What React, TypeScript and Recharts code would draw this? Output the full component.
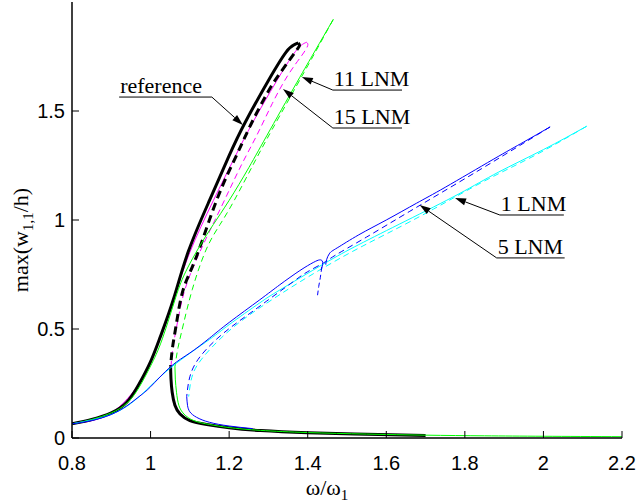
import React from "react";
import { LineChart, Line, XAxis, YAxis, ReferenceLine, Label } from "recharts";

// frequency-response curves: [omega/omega1, max(w11/h)]
const refStable = [
  [0.8, 0.065], [0.85, 0.085], [0.9, 0.115], [0.94, 0.165], [0.97, 0.245], [1.0, 0.35],
  [1.025, 0.465], [1.058, 0.635], [1.096, 0.855], [1.15, 1.09], [1.2, 1.295], [1.24, 1.445],
  [1.3, 1.64], [1.345, 1.77], [1.365, 1.803], [1.376, 1.812],
];
const refUnstable = [
  [1.376, 1.812], [1.379, 1.8], [1.366, 1.765], [1.33, 1.675], [1.298, 1.585], [1.255, 1.437],
  [1.217, 1.29], [1.168, 1.09], [1.117, 0.833], [1.083, 0.68], [1.066, 0.527], [1.056, 0.417],
  [1.051, 0.327],
];
const refLower = [
  [1.051, 0.327], [1.052, 0.27], [1.055, 0.21], [1.062, 0.15], [1.075, 0.11], [1.1, 0.08],
  [1.143, 0.062], [1.2, 0.047], [1.28, 0.034], [1.4, 0.024], [1.55, 0.017], [1.7, 0.012],
];

const lnm11Stable = [
  [0.8, 0.065], [0.85, 0.085], [0.9, 0.115], [0.94, 0.16], [0.97, 0.23], [1.0, 0.33],
  [1.03, 0.455], [1.064, 0.645], [1.09, 0.765], [1.125, 0.88], [1.16, 0.98], [1.2, 1.09],
  [1.25, 1.24], [1.304, 1.413], [1.38, 1.655], [1.42, 1.78], [1.465, 1.92],
];
const lnm11Unstable = [
  [1.465, 1.92], [1.43, 1.805], [1.39, 1.675], [1.31, 1.417], [1.26, 1.25], [1.213, 1.09],
  [1.177, 0.98], [1.141, 0.862], [1.106, 0.68], [1.084, 0.525], [1.07, 0.415], [1.062, 0.327],
];
const lnm11Lower = [
  [1.062, 0.327], [1.063, 0.27], [1.066, 0.21], [1.072, 0.15], [1.085, 0.11], [1.11, 0.08],
  [1.15, 0.062], [1.2, 0.048], [1.28, 0.035], [1.4, 0.025], [1.55, 0.018], [1.7, 0.013],
  [1.85, 0.01], [2.0, 0.008], [2.2, 0.006],
];

const lnm15Stable = [
  [0.8, 0.065], [0.9, 0.115], [0.97, 0.245], [1.0, 0.35], [1.058, 0.635], [1.1, 0.852],
  [1.16, 1.09], [1.215, 1.29], [1.26, 1.447], [1.32, 1.635], [1.365, 1.764], [1.387, 1.806],
  [1.397, 1.815],
];
const lnm15Unstable = [
  [1.397, 1.815], [1.4, 1.8], [1.385, 1.755], [1.35, 1.665], [1.31, 1.535], [1.27, 1.387],
  [1.23, 1.248], [1.18, 1.06], [1.125, 0.852], [1.088, 0.684], [1.07, 0.545], [1.057, 0.416],
  [1.052, 0.327],
];

const lnm1StableA = [
  [0.8, 0.065], [0.85, 0.08], [0.9, 0.108], [0.94, 0.148], [0.973, 0.193], [1.0, 0.235],
  [1.051, 0.327], [1.1, 0.39], [1.15, 0.458], [1.2, 0.53], [1.278, 0.634], [1.329, 0.703],
  [1.38, 0.768], [1.414, 0.805], [1.43, 0.817], [1.437, 0.812], [1.438, 0.795], [1.434, 0.773],
];
const lnm1Glitch = [[1.436, 0.785], [1.432, 0.735], [1.428, 0.695], [1.425, 0.655]];
const lnm1StableB = [
  [1.446, 0.795], [1.448, 0.818], [1.456, 0.848], [1.475, 0.872], [1.53, 0.932], [1.6, 1.0],
  [1.677, 1.077], [1.75, 1.15], [1.872, 1.278], [1.95, 1.358], [2.017, 1.427],
];
const lnm1Unstable = [
  [2.017, 1.427], [1.9, 1.298], [1.78, 1.168], [1.66, 1.04], [1.55, 0.922], [1.47, 0.838],
  [1.44, 0.803], [1.4, 0.763], [1.363, 0.717], [1.3, 0.634], [1.253, 0.572], [1.185, 0.48],
  [1.126, 0.373], [1.1, 0.281], [1.092, 0.19],
];
const lnm1Lower = [
  [1.092, 0.19], [1.094, 0.15], [1.1, 0.12], [1.117, 0.095], [1.15, 0.072], [1.2, 0.055],
  [1.26, 0.043],
];

const lnm5Stable = [
  [0.8, 0.065], [0.9, 0.108], [0.973, 0.193], [1.051, 0.322], [1.15, 0.452], [1.2, 0.52],
  [1.278, 0.62], [1.329, 0.679], [1.44, 0.798], [1.53, 0.887], [1.65, 0.996], [1.785, 1.12],
  [1.885, 1.219], [2.0, 1.323], [2.11, 1.43],
];
const lnm5Unstable = [
  [2.11, 1.43], [1.98, 1.298], [1.85, 1.179], [1.72, 1.05], [1.6, 0.936], [1.5, 0.842],
  [1.4, 0.738], [1.33, 0.659], [1.26, 0.575], [1.19, 0.476], [1.13, 0.362], [1.105, 0.278],
  [1.097, 0.19],
];

const xTicks = [0.8, 1, 1.2, 1.4, 1.6, 1.8, 2, 2.2];
const yTicks = [0, 0.5, 1, 1.5];

// annotations: text, underline [from, to, level], arrow tip
const noteText = ["reference", "11 LNM", "15 LNM", "1 LNM", "5 LNM"];
const noteLine = [
  [0.92, 1.156, 1.564],
  [1.464, 1.64, 1.596],
  [1.464, 1.64, 1.422],
  [1.889, 2.052, 1.023],
  [1.881, 2.054, 0.826],
];
const noteTip = [[1.235, 1.436], [1.385, 1.656], [1.337, 1.601], [1.775, 1.101], [1.685, 1.069]];
const noteFromRight = [true, false, false, false, false];

const serif = "'Liberation Serif', 'Times New Roman', serif";
const sans = "'Liberation Sans', Arial, sans-serif";

const pts = (a: number[][]) => a.map(([x, y]) => ({ x, y }));

const series = [
  { d: lnm15Stable, c: "#ff00ff", w: 1, dash: undefined },
  { d: lnm15Unstable, c: "#ff00ff", w: 1, dash: "6 4" },
  { d: refStable, c: "#000000", w: 3, dash: undefined },
  { d: refUnstable, c: "#000000", w: 3, dash: "8 5" },
  { d: refLower, c: "#000000", w: 3, dash: undefined },
  { d: lnm11Stable, c: "#00ff00", w: 1, dash: undefined },
  { d: lnm11Unstable, c: "#00ff00", w: 1, dash: "6 4" },
  { d: lnm11Lower, c: "#00ff00", w: 1, dash: undefined },
  { d: lnm5Stable, c: "#00ffff", w: 1, dash: undefined },
  { d: lnm5Unstable, c: "#00ffff", w: 1, dash: "6 4" },
  { d: lnm1StableA, c: "#0000ff", w: 1, dash: undefined },
  { d: lnm1Glitch, c: "#0000ff", w: 1, dash: "5 3", lin: true },
  { d: lnm1StableB, c: "#0000ff", w: 1, dash: undefined },
  { d: lnm1Unstable, c: "#0000ff", w: 1, dash: "6 4" },
  { d: lnm1Lower, c: "#0000ff", w: 1, dash: undefined },
];

// leader line with a filled head at (x1, y1)
const arrowShape = (p: any) => {
  const { x1, y1, x2, y2 } = p;
  const len = Math.hypot(x1 - x2, y1 - y2) || 1;
  const ux = (x1 - x2) / len;
  const uy = (y1 - y2) / len;
  const bx = x1 - ux * 11;
  const by = y1 - uy * 11;
  const head = `${x1},${y1} ${bx - uy * 3.5},${by + ux * 3.5} ${bx + uy * 3.5},${by - ux * 3.5}`;
  return (
    <g>
      <line x1={x2} y1={y2} x2={bx} y2={by} stroke="#000" strokeWidth={1} />
      <polygon points={head} fill="#000" />
    </g>
  );
};

const underlineShape = (text: string) => (p: any) => (
  <g>
    <line x1={p.x1} y1={p.y1} x2={p.x2} y2={p.y2} stroke="#000" strokeWidth={1} />
    <text x={p.x1 + 1} y={p.y1 - 4} fontFamily={serif} fontSize={22} fill="#000">
      {text}
    </text>
  </g>
);

// MATLAB style ticks: short marks pointing into the box
const TICK = 7;
const X_MARGIN = 18;
const Y_MARGIN = 7;

const BottomTick = (p: any) => (
  <g>
    <line x1={p.x} x2={p.x} y1={p.y - X_MARGIN} y2={p.y - X_MARGIN - TICK} stroke="#000" />
    <text x={p.x} y={p.y} dy="0.72em" textAnchor="middle" fontFamily={sans} fontSize={20} fill="#000">
      {p.payload.value}
    </text>
  </g>
);
const TopTick = (p: any) => <line x1={p.x} x2={p.x} y1={p.y} y2={p.y + TICK} stroke="#000" />;
const LeftTick = (p: any) => (
  <g>
    <line x1={p.x + Y_MARGIN} x2={p.x + Y_MARGIN + TICK} y1={p.y} y2={p.y} stroke="#000" />
    <text x={p.x} y={p.y} dy="0.36em" textAnchor="end" fontFamily={sans} fontSize={20} fill="#000">
      {p.payload.value}
    </text>
  </g>
);
const RightTick = (p: any) => <line x1={p.x - TICK} x2={p.x} y1={p.y} y2={p.y} stroke="#000" />;

const axisLine = { stroke: "#000", strokeWidth: 1.5 };

export default function App() {
  return (
    <div style={{ position: "absolute", left: 0, top: 0, width: 640, height: 504, background: "#fff" }}>
      <LineChart width={640} height={504} margin={{ top: 2, right: 18, bottom: 0, left: 0 }}>
        <XAxis
          dataKey="x"
          type="number"
          domain={[0.8, 2.2]}
          ticks={xTicks}
          interval={0}
          allowDataOverflow
          height={66}
          axisLine={axisLine}
          tickLine={false}
          tickSize={0}
          tickMargin={X_MARGIN}
          tick={BottomTick}
        >
          <Label
            content={() => (
              <text x={327} y={495} textAnchor="middle" fontFamily={serif} fontSize={22} fill="#000">
                ω/ω<tspan fontSize={15} dy={5}>1</tspan>
              </text>
            )}
          />
        </XAxis>
        <XAxis
          xAxisId="top"
          orientation="top"
          type="number"
          domain={[0.8, 2.2]}
          ticks={xTicks}
          interval={0}
          height={0}
          axisLine={axisLine}
          tickLine={false}
          tickSize={0}
          tickMargin={0}
          tick={TopTick}
        />
        <YAxis
          type="number"
          domain={[0, 2]}
          ticks={yTicks}
          interval={0}
          allowDataOverflow
          width={72}
          axisLine={axisLine}
          tickLine={false}
          tickSize={0}
          tickMargin={Y_MARGIN}
          tick={LeftTick}
        >
          <Label
            content={() => (
              <text
                transform="translate(28,240) rotate(-90)"
                textAnchor="middle"
                fontFamily={serif}
                fontSize={22}
                fill="#000"
              >
                max(w<tspan fontSize={15} dy={5}>1,1</tspan>
                <tspan dy={-5}>/h)</tspan>
              </text>
            )}
          />
        </YAxis>
        <YAxis
          yAxisId="right"
          orientation="right"
          type="number"
          domain={[0, 2]}
          ticks={yTicks}
          interval={0}
          width={0}
          axisLine={axisLine}
          tickLine={false}
          tickSize={0}
          tickMargin={0}
          tick={RightTick}
        />

        {series.map((s, i) => (
          <Line
            key={i}
            data={pts(s.d)}
            dataKey="y"
            type={s.lin ? "linear" : "natural"}
            stroke={s.c}
            strokeWidth={s.w}
            strokeDasharray={s.dash}
            dot={false}
            activeDot={false}
            isAnimationActive={false}
          />
        ))}

        {noteText.map((t, i) => {
          const [a, b, y] = noteLine[i];
          const fromX = noteFromRight[i] ? b : a;
          return (
            <React.Fragment key={t}>
              <ReferenceLine
                segment={[{ x: a, y }, { x: b, y }]}
                ifOverflow="visible"
                shape={underlineShape(t)}
              />
              <ReferenceLine
                segment={[{ x: noteTip[i][0], y: noteTip[i][1] }, { x: fromX, y }]}
                ifOverflow="visible"
                shape={arrowShape}
              />
            </React.Fragment>
          );
        })}
      </LineChart>
    </div>
  );
}
